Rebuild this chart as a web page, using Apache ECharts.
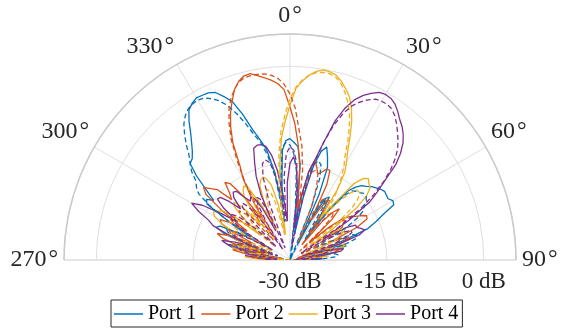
<!DOCTYPE html>
<html>
<head>
<meta charset="utf-8">
<script src="https://cdn.jsdelivr.net/npm/echarts@6/dist/echarts.min.js"></script>
<style>
  html, body { margin: 0; padding: 0; background: #fff; }
  #chart { width: 570px; height: 328px; }
</style>
</head>
<body>
<div id="chart"></div>
<script>
// Azimuth samples in degrees (0 = broadside, negative = 270..360 side)
const azimuth = [
  -90, -88, -86, -84, -82, -80, -78, -76, -74, -72,
  -70, -68, -66, -64, -62, -60, -58, -56, -54, -52,
  -50, -48, -46, -44, -42, -40, -38, -36, -34, -32,
  -30, -28, -26, -24, -22, -20, -18, -16, -14, -12,
  -10, -8, -6, -4, -2, 0, 2, 4, 6, 8,
  10, 12, 14, 16, 18, 20, 22, 24, 26, 28,
  30, 32, 34, 36, 38, 40, 42, 44, 46, 48,
  50, 52, 54, 56, 58, 60, 62, 64, 66, 68,
  70, 72, 74, 76, 78, 80, 82, 84, 86, 88,
  90
];

// Normalised gain in dB, measured (solid) and simulated (dashed)
const port1Meas = [
  -27, -26, -24, -25, -28, -24, -21, -20, -22, -27,
  -22, -19, -17.5, -18, -22, -23, -19, -14.5, -14, -15,
  -13, -10.5, -8.5, -8.2, -7.4, -6.3, -5, -3.4, -2, -1.4,
  -1.0, -1.1, -1.2, -1.6, -2.7, -3.9, -6.3, -9, -10.8, -12.5,
  -16, -22, -18, -13, -11.5, -11.2, -11.8, -12.4, -15, -21,
  -26, -20, -15, -12.5, -11.6, -13, -14.5, -19, -27, -22,
  -19, -18.5, -21, -25, -20, -16, -14.8, -14, -13.6, -13,
  -12.6, -12.2, -11.9, -12, -12.1, -11.6, -11.8, -14, -15.5, -17,
  -21, -25, -22, -21, -24, -27, -25, -26, -28, -27,
  -28
];
const port1Sim = [
  -30, -27, -25, -24.5, -26, -29, -24, -21.5, -21, -23,
  -28, -22, -19.5, -19, -21, -26, -19, -15, -12.5, -11.6,
  -11, -9.5, -8.5, -7.5, -6, -4.6, -3.3, -2.4, -1.8, -1.5,
  -1.4, -1.6, -2.2, -3.0, -4.2, -5.9, -7.8, -9.8, -11.2, -13.5,
  -17, -24, -17, -12.5, -11.8, -12.2, -13.5, -16, -22, -30,
  -22, -17, -14.8, -14, -14.5, -16.5, -21, -30, -24, -20,
  -19, -20.5, -25, -26, -20, -17, -15.6, -15.2, -15, -14.6,
  -14.6, -15, -15.8, -16.3, -17.5, -20, -24, -26, -22, -19.5,
  -19, -19.2, -21, -25, -28, -25, -23, -22.5, -23, -25,
  -27
];
const port2Meas = [
  -28, -26, -24, -27, -23, -21, -22, -26, -21, -19,
  -18, -20, -24, -20, -18, -17.5, -19, -22, -17, -13.5,
  -12.5, -13.5, -14.3, -17, -16, -14.3, -15, -18, -23, -19,
  -15.5, -13.5, -9.8, -7.4, -5.4, -3.8, -2.2, -1.2, -0.6, -0.5,
  -1.0, -1.5, -2.0, -2.6, -3.6, -6.3, -8.8, -12, -15.5, -22,
  -20, -16, -14, -15, -16, -15.5, -14.8, -14.8, -17, -23,
  -21, -19, -19, -22, -27, -22, -20, -19, -21, -26,
  -22, -19.5, -18.6, -18, -17, -16.3, -16.5, -18.5, -23, -21,
  -20, -22, -27, -24, -22, -23, -26, -28, -25, -26,
  -29
];
const port2Sim = [
  -30, -28, -25, -24, -25.5, -29, -24, -21.5, -21, -22.5,
  -27, -23, -20, -19.5, -21, -26, -22, -19, -18.5, -19.5,
  -22, -20, -19, -19, -21, -26, -22, -20, -26, -21,
  -16, -12.5, -9.2, -6.8, -4.8, -3.3, -2.2, -1.3, -0.9, -0.8,
  -0.8, -0.9, -1.2, -1.7, -2.7, -4.3, -6.5, -9.8, -12.3, -16,
  -22, -18, -16, -15.5, -16, -18, -21, -27, -22, -19.5,
  -19, -19.5, -21, -25, -24, -21, -20, -20.5, -23, -28,
  -23, -20.5, -19.5, -19.5, -20.5, -23, -28, -24, -22, -21.5,
  -22.5, -26, -29, -26, -24, -24, -26, -29, -27, -27,
  -28
];
const port3Meas = [
  -27, -25, -23, -24, -27, -23, -21, -20.5, -22, -26,
  -22, -19.5, -20, -20.6, -18, -16.5, -16, -16.5, -17, -19,
  -24, -20, -18, -17.5, -19, -23, -21, -18, -17, -16.5,
  -17, -20, -24, -20, -17.5, -16.8, -16.5, -17, -18, -21,
  -26, -20, -15, -11, -8.5, -6, -3.4, -2.2, -1.2, -0.5,
  -0.1, -0.2, -0.5, -1.2, -2.1, -3.1, -4.6, -6.5, -8.8, -11,
  -12.5, -14, -17, -22, -19, -14.5, -13, -12.5, -13, -13.3,
  -14.5, -17, -22, -26, -22, -20, -20.5, -21.5, -22, -25,
  -28, -23, -21, -21.5, -24, -28, -25, -24, -26, -28,
  -29
];
const port3Sim = [
  -30, -29, -28, -29, -26, -24, -24, -26, -27, -23,
  -21.5, -21.5, -23, -27, -24, -20.5, -19, -18.5, -19, -20.5,
  -23, -27, -22, -20, -19.5, -20.5, -23, -26, -21, -19,
  -18.5, -19.5, -22, -25, -21, -19, -18.5, -19, -21, -26,
  -23, -18, -13.5, -10, -7.5, -5, -3.2, -2, -1.2, -0.7,
  -0.5, -0.5, -0.8, -1.5, -2.6, -3.9, -5.4, -7.4, -9.6, -11.9,
  -13.3, -15, -16.8, -19, -21, -18, -16, -15, -15, -15.8,
  -17.5, -21, -27, -23, -21, -20.5, -21, -21.8, -22, -24,
  -28, -25, -23, -23, -25, -29, -27, -26, -26.5, -28,
  -30
];
const port4Meas = [
  -28, -27, -25, -23, -24, -27, -23, -20, -19, -21,
  -24, -20, -17, -16, -14, -12.4, -14, -17, -20, -17,
  -15.3, -15.5, -17, -19, -17, -16.3, -16.5, -18, -19, -18.5,
  -19, -21, -25, -19, -16, -14, -11.8, -11.5, -11.6, -12,
  -13.5, -16, -20, -24, -18, -15, -14, -15.5, -19, -25,
  -20, -16, -14, -11, -7.3, -4.9, -3.2, -2.1, -1.3, -0.6,
  -0.4, -0.5, -0.9, -1.6, -2.4, -3.0, -3.8, -4.8, -6.2, -8,
  -10.8, -12.8, -14.8, -19, -24, -20, -18.5, -18.5, -18, -17.5,
  -18.5, -22, -27, -23, -21.5, -22, -25, -29, -26, -25,
  -27
];
const port4Sim = [
  -27, -26, -27, -28, -24.5, -22.5, -22, -22.5, -25, -28,
  -23, -21, -20.5, -21, -23, -27, -22, -19.5, -18.5, -18.5,
  -19.5, -22, -27, -21.5, -19, -18.5, -19.5, -22, -28, -23,
  -20, -19, -19.5, -22, -28, -21, -16.5, -14.5, -14, -14.5,
  -16, -20, -24, -17, -13.5, -12.5, -13, -15, -20, -28,
  -24, -19, -14.5, -11, -8, -5.8, -4.2, -3.2, -2.4, -1.8,
  -1.6, -1.6, -1.8, -2.4, -3.2, -4.1, -5, -6, -7.3, -9,
  -11, -13.5, -16.5, -21, -28, -24, -21, -19.5, -19.5, -20.5,
  -23, -28, -25, -23, -23, -25, -29, -28, -27, -28,
  -30
];

const portNames = ['Port 1', 'Port 2', 'Port 3', 'Port 4'];
const portColors = ['#0072BD', '#D95319', '#EDB120', '#7E2F8E'];
const radialTicks = [-30, -15, 0];   // labelled rings (dB)
const radialMin = -30;
const radialMax = 5;

const FONT = '"Liberation Serif", "Times New Roman", serif';
const INK = '#262626';
const GRID = '#dfdfdf';
const EDGE = '#cbcbcb';

// The angle axis runs from the 90° side (value -90) to the 270° side (value 90),
// so an azimuth a is placed at -a; gains below the inner ring sit at the centre.
function toPolar(gains) {
  return azimuth.map((a, i) => [Math.max(gains[i], radialMin), -a]);
}

function lineSeries(name, gains, color, dashed) {
  return {
    name: name,
    type: 'line',
    coordinateSystem: 'polar',
    data: toPolar(gains),
    symbol: 'none',
    showSymbol: false,
    smooth: false,
    silent: true,
    animation: false,
    lineStyle: { color: color, width: 1.3, type: dashed ? [5, 3] : 'solid' },
    itemStyle: { color: color }
  };
}

const measured = [port1Meas, port2Meas, port3Meas, port4Meas];
const simulated = [port1Sim, port2Sim, port3Sim, port4Sim];

const series = [];
measured.forEach((g, i) => series.push(lineSeries(portNames[i], g, portColors[i], false)));
simulated.forEach((g, i) => series.push(lineSeries(portNames[i] + ' sim', g, portColors[i], true)));

const chart = echarts.init(document.getElementById('chart'), null, { renderer: 'canvas' });
chart.setOption({
  animation: false,
  backgroundColor: '#ffffff',
  polar: { center: [290, 260], radius: [0, 226] },
  angleAxis: {
    type: 'value',
    min: -90,
    max: 90,
    interval: 30,
    startAngle: 0,
    endAngle: 180,
    clockwise: false,
    axisLine: { show: true, lineStyle: { color: EDGE, width: 1.5 } },
    axisTick: { show: false },
    splitLine: {
      show: true,
      lineStyle: { color: [EDGE, GRID, GRID, GRID, GRID, GRID, EDGE], width: 1 }
    },
    axisLabel: {
      show: true,
      margin: 6,
      color: INK,
      fontFamily: FONT,
      fontSize: 24,
      formatter: function (v) {
        let a = Math.round(-v);
        if (a < 0) a += 360;
        return a + '\u200a°';
      }
    }
  },
  radiusAxis: {
    type: 'value',
    min: radialMin,
    max: radialMax,
    interval: 15,
    axisLine: { show: false },
    axisTick: { show: false },
    splitLine: { show: true, lineStyle: { color: [GRID, GRID, GRID, EDGE], width: 1 } },
    axisLabel: {
      show: true,
      color: INK,
      fontFamily: FONT,
      fontSize: 23,
      margin: -33,
      formatter: function (v) {
        return radialTicks.indexOf(v) >= 0 ? v + ' dB' : '';
      }
    }
  },
  legend: {
    data: portNames,
    icon: 'rect',
    left: 111,
    top: 300,
    orient: 'horizontal',
    backgroundColor: '#ffffff',
    borderColor: INK,
    borderWidth: 1,
    borderRadius: 0,
    padding: [4, 4, 3, 3],
    itemGap: 5,
    itemWidth: 29,
    itemHeight: 1.5,
    textStyle: { fontFamily: FONT, fontSize: 20, color: '#000' },
    selectedMode: false
  },
  series: series
});
</script>
</body>
</html>
